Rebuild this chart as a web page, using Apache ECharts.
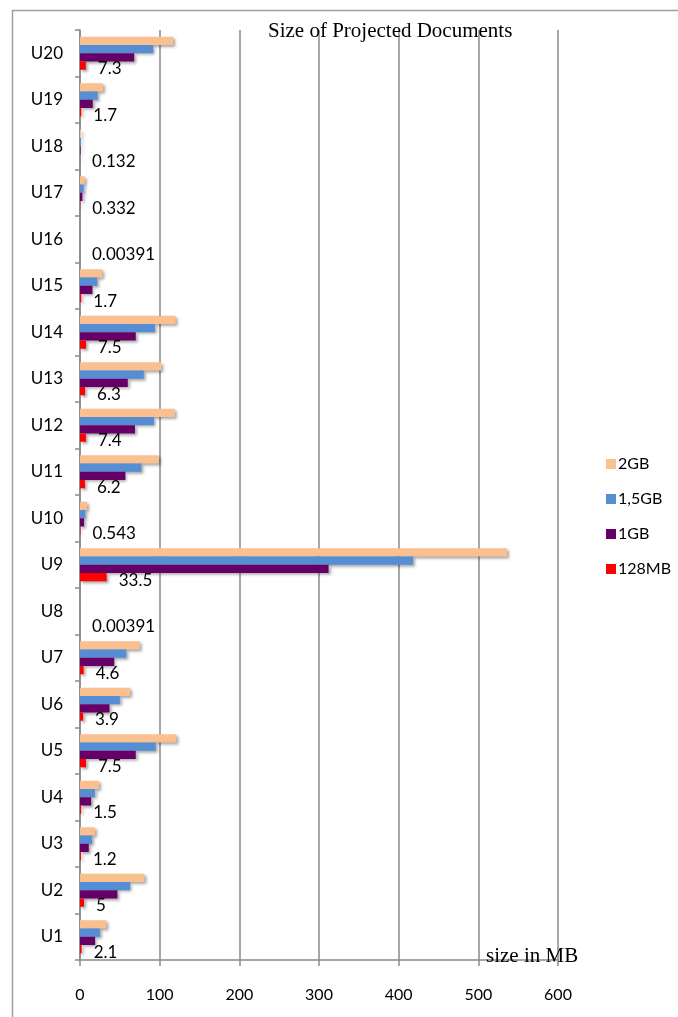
<!DOCTYPE html>
<html>
<head>
<meta charset="utf-8">
<script src="https://cdn.jsdelivr.net/npm/echarts@6/dist/echarts.min.js"></script>
<style>
html,body{margin:0;padding:0;background:#fff;}
#chart{width:678px;height:1017px;}
</style>
</head>
<body>
<div id="chart"></div>
<script>
var categories = ['U1','U2','U3','U4','U5','U6','U7','U8','U9','U10','U11','U12','U13','U14','U15','U16','U17','U18','U19','U20'];
var xTicks = [0,100,200,300,400,500,600];
var s2GB   = [33, 81, 19, 24, 121, 63, 75, 0.03, 536, 9, 99, 119, 102, 120, 28, 0.03, 6, 1.5, 29, 117];
var s15GB  = [25, 63, 15, 18.6, 95, 50, 58, 0.02, 418, 6.5, 77, 93, 80, 94, 21.5, 0.02, 4.5, 1.0, 22, 92];
var s1GB   = [19, 47, 11, 14, 70, 37, 43, 0.015, 312, 5, 57, 69, 60, 70, 15.6, 0.015, 3, 0.7, 16, 68];
var s128MB = [2.1, 5, 1.2, 1.5, 7.5, 3.9, 4.6, 0.00391, 33.5, 0.543, 6.2, 7.4, 6.3, 7.5, 1.7, 0.00391, 0.332, 0.132, 1.7, 7.3];
var seriesNames = ['2GB','1,5GB','1GB','128MB'];
var colors = ['#FAC08F','#558ED5','#660066','#FF0000'];

var sansFont = 'Lato, "Open Sans", "Liberation Sans", sans-serif';
var chart = echarts.init(document.getElementById('chart'));
var shadow = {shadowBlur:3, shadowColor:'rgba(0,0,0,0.35)', shadowOffsetX:2, shadowOffsetY:2};
function mk(name, data, color, withLabel){
  var s = {
    name: name, type:'bar', data: data,
    barGap: '0%', barCategoryGap: '29%',
    itemStyle: Object.assign({color: color}, shadow),
    emphasis: {disabled:true}
  };
  if (withLabel) {
    s.label = {show:true, position:'right', distance:12, offset:[0,3],
      fontFamily:sansFont, fontSize:17, color:'#000',
      formatter: function(p){ return String(p.value); }};
  }
  return s;
}
var option = {
  backgroundColor:'#fff',
  animation:false,
  graphic:[
    {type:'rect', left:10, top:8, shape:{width:760, height:1100}, style:{fill:'none', stroke:'#a0a0a0', lineWidth:1.5}, silent:true},
    {type:'text', left:268, top:21, style:{text:'Size of Projected Documents', font:'21px "Liberation Serif", "DejaVu Serif", serif', fill:'#000'}, z:10},
    {type:'text', left:486, top:946, style:{text:'size in MB', font:'21px "Liberation Serif", "DejaVu Serif", serif', fill:'#000'}, z:10}
  ],
  legend:{
    data:['2GB','1,5GB','1GB','128MB'],
    orient:'vertical', left:601, top:451, itemGap:19,
    itemWidth:10, itemHeight:10, icon:'rect',
    textStyle:{fontFamily:sansFont, fontSize:16, color:'#000', padding:[0,0,0,-3]}
  },
  grid:{left:80, right:120, top:30, bottom:57, containLabel:false},
  xAxis:{
    type:'value', min:xTicks[0], max:xTicks[xTicks.length-1], interval:100,
    axisLine:{show:true, lineStyle:{color:'#8a8a8a', width:1.5}},
    axisTick:{show:true, length:6, lineStyle:{color:'#8a8a8a', width:1.5}},
    axisLabel:{margin:27, fontFamily:sansFont, fontSize:16, color:'#000'},
    splitLine:{show:true, lineStyle:{color:'#8a8a8a', width:1.5}}
  },
  yAxis:{
    type:'category', data:categories,
    axisLine:{show:true, lineStyle:{color:'#8a8a8a', width:1.5}},
    axisTick:{show:true, length:5, alignWithLabel:false, lineStyle:{color:'#8a8a8a', width:1.5}},
    axisLabel:{margin:17, fontFamily:sansFont, fontSize:17, color:'#000'}
  },
  series:[
    mk(seriesNames[0], s2GB, colors[0], false),
    mk(seriesNames[1], s15GB, colors[1], false),
    mk(seriesNames[2], s1GB, colors[2], false),
    mk(seriesNames[3], s128MB, colors[3], true)
  ]
};
chart.setOption(option);
</script>
</body>
</html>
